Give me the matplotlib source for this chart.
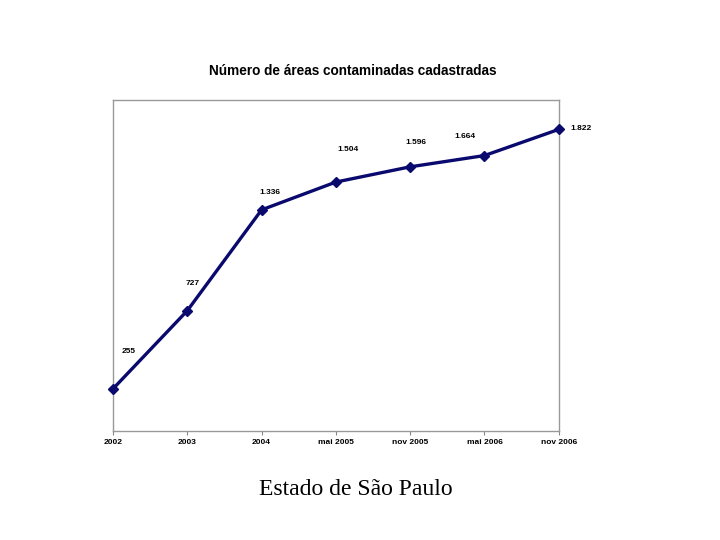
import matplotlib.pyplot as plt

# data
periods = ['2002', '2003', '2004', 'mai 2005', 'nov 2005', 'mai 2006', 'nov 2006']
areas = [255, 727, 1336, 1504, 1596, 1664, 1822]

# where each value label sits relative to its point (pixels)
label_offsets = [(16, 37), (5, 27), (8, 17), (12, 33), (6, 24), (-19, 19), (22, 1)]

fig = plt.figure(figsize=(7.2, 5.4), dpi=100)
ax = fig.add_axes([0.157, 0.2019, 0.619, 0.613])

x = list(range(len(periods)))
ax.plot(x, areas, color='#0a0a6e', lw=2.4, marker='D', ms=5.5,
        clip_on=False, zorder=3)

for xi, v, (dx, dy) in zip(x, areas, label_offsets):
    txt = f"{v:,}".replace(",", ".")
    ax.annotate(txt, (xi, v), xytext=(dx / 1.389, dy / 1.389),
                textcoords='offset points', ha='center', va='center',
                fontsize=6, fontweight='bold', family='Liberation Sans')

ax.set_xlim(0, len(periods) - 1)
ax.set_ylim(0, 2000)
ax.set_xticks(x)
ax.set_xticklabels(periods, fontsize=6, fontweight='bold', family='Liberation Sans')
ax.set_yticks([])
ax.tick_params(axis='x', length=3, color='#888888', pad=3)
for s in ax.spines.values():
    s.set_color('#999999')
    s.set_linewidth(1.0)

fig.text(0.49, 0.868, 'Número de áreas contaminadas cadastradas', ha='center',
         va='center', fontsize=9.8, fontweight='bold', family='Liberation Sans')
fig.text(0.494, 0.094, 'Estado de São Paulo', ha='center', va='center',
         fontsize=17, family='Liberation Serif')

fig.savefig('out.png', dpi=100)
